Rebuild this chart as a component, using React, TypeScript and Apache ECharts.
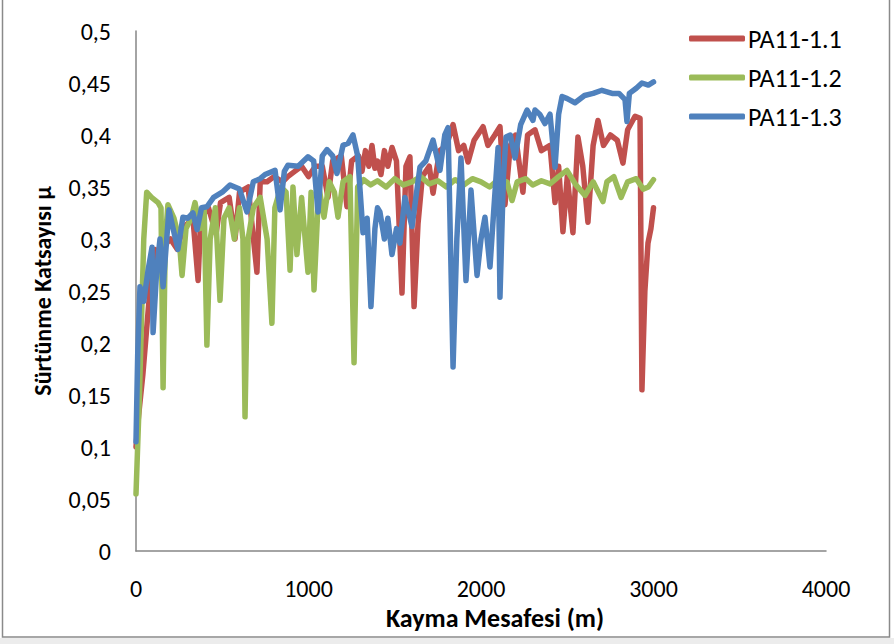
import React, { useEffect, useRef } from "react";
import * as echarts from "echarts";

const seriesNames = ["PA11-1.1", "PA11-1.2", "PA11-1.3"];
const seriesColors = ["#C0504D", "#9BBB59", "#4F81BD"];

const redX = [0, 15, 40, 60, 80, 110, 140, 170, 200, 240, 270, 300, 330, 360, 375, 420, 464, 490, 540, 574, 600, 650, 701, 720, 760, 800, 850, 880, 920, 960, 1000, 1040, 1080, 1113, 1140, 1190, 1223, 1250, 1290, 1310, 1330, 1350, 1368, 1385, 1400, 1420, 1440, 1460, 1484, 1510, 1542, 1565, 1588, 1612, 1635, 1660, 1700, 1722, 1760, 1800, 1838, 1870, 1900, 1925, 1960, 2012, 2040, 2080, 2110, 2139, 2170, 2200, 2243, 2270, 2313, 2350, 2400, 2429, 2450, 2475, 2500, 2533, 2562, 2590, 2620, 2650, 2678, 2710, 2750, 2790, 2823, 2850, 2893, 2922, 2933, 2950, 2968, 2985, 3000];
const redY = [0.10, 0.13, 0.17, 0.21, 0.25, 0.29, 0.28, 0.295, 0.30, 0.29, 0.31, 0.315, 0.32, 0.26, 0.32, 0.33, 0.305, 0.335, 0.34, 0.30, 0.345, 0.35, 0.268, 0.355, 0.355, 0.36, 0.355, 0.36, 0.365, 0.37, 0.36, 0.37, 0.37, 0.34, 0.375, 0.38, 0.331, 0.375, 0.38, 0.365, 0.385, 0.37, 0.39, 0.368, 0.375, 0.362, 0.385, 0.37, 0.388, 0.375, 0.248, 0.37, 0.379, 0.235, 0.315, 0.36, 0.37, 0.344, 0.385, 0.39, 0.41, 0.385, 0.39, 0.374, 0.395, 0.408, 0.39, 0.40, 0.408, 0.333, 0.39, 0.40, 0.345, 0.40, 0.405, 0.385, 0.39, 0.335, 0.37, 0.307, 0.36, 0.306, 0.398, 0.37, 0.316, 0.39, 0.414, 0.39, 0.40, 0.395, 0.373, 0.405, 0.418, 0.416, 0.155, 0.25, 0.296, 0.31, 0.33];

const greenX = [0, 20, 45, 62, 90, 128, 145, 157, 170, 185, 220, 250, 267, 290, 320, 342, 370, 395, 411, 430, 460, 487, 510, 540, 570, 600, 620, 632, 650, 680, 720, 760, 788, 805, 840, 870, 893, 910, 933, 960, 997, 1015, 1032, 1060, 1090, 1120, 1150, 1171, 1200, 1240, 1264, 1285, 1320, 1360, 1400, 1450, 1500, 1550, 1600, 1650, 1700, 1750, 1800, 1850, 1900, 1950, 2000, 2050, 2100, 2150, 2180, 2210, 2260, 2300, 2350, 2400, 2450, 2498, 2550, 2603, 2650, 2707, 2730, 2770, 2812, 2850, 2900, 2940, 2970, 3000];
const greenY = [0.055, 0.15, 0.30, 0.345, 0.34, 0.335, 0.33, 0.157, 0.30, 0.333, 0.32, 0.30, 0.265, 0.31, 0.32, 0.335, 0.31, 0.33, 0.198, 0.30, 0.33, 0.241, 0.32, 0.33, 0.30, 0.33, 0.30, 0.129, 0.30, 0.33, 0.34, 0.30, 0.219, 0.33, 0.35, 0.345, 0.27, 0.35, 0.285, 0.34, 0.268, 0.345, 0.251, 0.35, 0.321, 0.355, 0.345, 0.321, 0.355, 0.36, 0.181, 0.35, 0.357, 0.352, 0.356, 0.35, 0.358, 0.352, 0.355, 0.36, 0.353, 0.356, 0.35, 0.357, 0.352, 0.358, 0.355, 0.35, 0.357, 0.355, 0.337, 0.355, 0.358, 0.352, 0.356, 0.353, 0.36, 0.366, 0.352, 0.342, 0.355, 0.336, 0.355, 0.36, 0.34, 0.355, 0.358, 0.348, 0.35, 0.357];

const blueX = [0, 10, 23, 45, 70, 93, 99, 120, 139, 157, 191, 215, 243, 272, 300, 330, 354, 380, 411, 450, 500, 545, 600, 643, 680, 720, 748, 806, 835, 860, 881, 940, 997, 1030, 1055, 1080, 1107, 1140, 1165, 1200, 1230, 1258, 1285, 1316, 1340, 1362, 1385, 1400, 1414, 1440, 1460, 1484, 1510, 1530, 1559, 1600, 1646, 1680, 1722, 1762, 1790, 1809, 1838, 1860, 1884, 1913, 1942, 1977, 2000, 2023, 2052, 2075, 2099, 2110, 2130, 2145, 2170, 2197, 2230, 2267, 2301, 2313, 2340, 2371, 2400, 2429, 2450, 2470, 2500, 2545, 2600, 2650, 2701, 2760, 2800, 2835, 2846, 2860, 2900, 2933, 2970, 3000];
const blueY = [0.105, 0.19, 0.254, 0.24, 0.27, 0.292, 0.21, 0.27, 0.30, 0.254, 0.328, 0.31, 0.29, 0.321, 0.32, 0.325, 0.309, 0.33, 0.331, 0.34, 0.345, 0.352, 0.348, 0.326, 0.355, 0.358, 0.362, 0.366, 0.328, 0.365, 0.371, 0.37, 0.379, 0.375, 0.326, 0.38, 0.386, 0.38, 0.363, 0.39, 0.392, 0.40, 0.38, 0.306, 0.32, 0.235, 0.31, 0.33, 0.326, 0.30, 0.32, 0.285, 0.31, 0.296, 0.34, 0.312, 0.369, 0.375, 0.395, 0.366, 0.40, 0.407, 0.177, 0.30, 0.378, 0.26, 0.347, 0.265, 0.30, 0.321, 0.273, 0.33, 0.388, 0.244, 0.36, 0.398, 0.40, 0.378, 0.41, 0.424, 0.414, 0.424, 0.42, 0.411, 0.42, 0.369, 0.42, 0.437, 0.435, 0.431, 0.438, 0.44, 0.443, 0.44, 0.44, 0.434, 0.413, 0.44, 0.445, 0.45, 0.448, 0.451];

const xTicks = [0, 1000, 2000, 3000, 4000];
const yTicks = [0, 0.05, 0.1, 0.15, 0.2, 0.25, 0.3, 0.35, 0.4, 0.45, 0.5];

const xTitle = "Kayma Mesafesi (m)";
const yTitle = "Sürtünme Katsayısı μ";

const FONT = "Carlito, Lato, 'Open Sans', sans-serif";

function zip(xs: number[], ys: number[]) {
  return xs.map((x, i) => [x, ys[i]]);
}

export default function App() {
  const ref = useRef<HTMLDivElement>(null);
  useEffect(() => {
    document.body.style.margin = "0";
    const chart = echarts.init(ref.current!, undefined, { renderer: "svg" });
    const data = [zip(redX, redY), zip(greenX, greenY), zip(blueX, blueY)];
    chart.setOption({
      animation: false,
      backgroundColor: "#ffffff",
      textStyle: { fontFamily: FONT },
      grid: { left: 136, right: 68, top: 31, bottom: 93, containLabel: false },
      graphic: [
        {
          type: "rect",
          shape: { x: 0, y: 638, width: 894, height: 6 },
          style: { fill: "#ececec" },
          silent: true,
        },
        {
          type: "rect",
          shape: { x: 2.5, y: -2, width: 887, height: 639 },
          style: { fill: "none", stroke: "#8a8a8a", lineWidth: 1.5 },
          silent: true,
        },
      ],
      legend: {
        orient: "vertical",
        left: 684,
        top: 20,
        itemWidth: 56,
        itemHeight: 6,
        itemGap: 12,
        icon: "roundRect",
        textStyle: { fontFamily: FONT, fontSize: 26, lineHeight: 27, color: "#000", padding: [0, 0, 0, -2] },
        data: seriesNames,
      },
      xAxis: {
        type: "value",
        min: xTicks[0],
        max: xTicks[xTicks.length - 1],
        interval: 1000,
        name: xTitle,
        nameLocation: "middle",
        nameGap: 52,
        nameTextStyle: { fontFamily: FONT, fontSize: 26, fontWeight: "bold", color: "#000", padding: [0, 0, 0, 28] },
        axisLine: { show: true, lineStyle: { color: "#868686", width: 1.5 } },
        axisTick: { show: false },
        splitLine: { show: false },
        axisLabel: {
          fontFamily: FONT,
          fontSize: 24,
          color: "#000",
          margin: 25,
          formatter: (v: number) => String(v),
        },
      },
      yAxis: {
        type: "value",
        min: yTicks[0],
        max: yTicks[yTicks.length - 1],
        interval: 0.05,
        name: yTitle,
        nameLocation: "middle",
        nameGap: 82,
        nameRotate: 90,
        nameTextStyle: { fontFamily: FONT, fontSize: 24, fontWeight: "bold", color: "#000" },
        axisLine: { show: true, lineStyle: { color: "#868686", width: 1.5 } },
        axisTick: { show: false },
        splitLine: { show: false },
        axisLabel: {
          fontFamily: FONT,
          fontSize: 24,
          color: "#000",
          margin: 25,
          formatter: (v: number) => String(Math.round(v * 100) / 100).replace(".", ","),
        },
      },
      series: seriesNames.map((name, i) => ({
        name,
        type: "line",
        data: data[i],
        showSymbol: false,
        symbol: "none",
        color: seriesColors[i],
        lineStyle: { color: seriesColors[i], width: 5.5, cap: "round", join: "round" },
        itemStyle: { color: seriesColors[i] },
        z: 2 + i,
      })),
    });
    return () => chart.dispose();
  }, []);
  return <div ref={ref} style={{ width: 894, height: 644 }} />;
}
